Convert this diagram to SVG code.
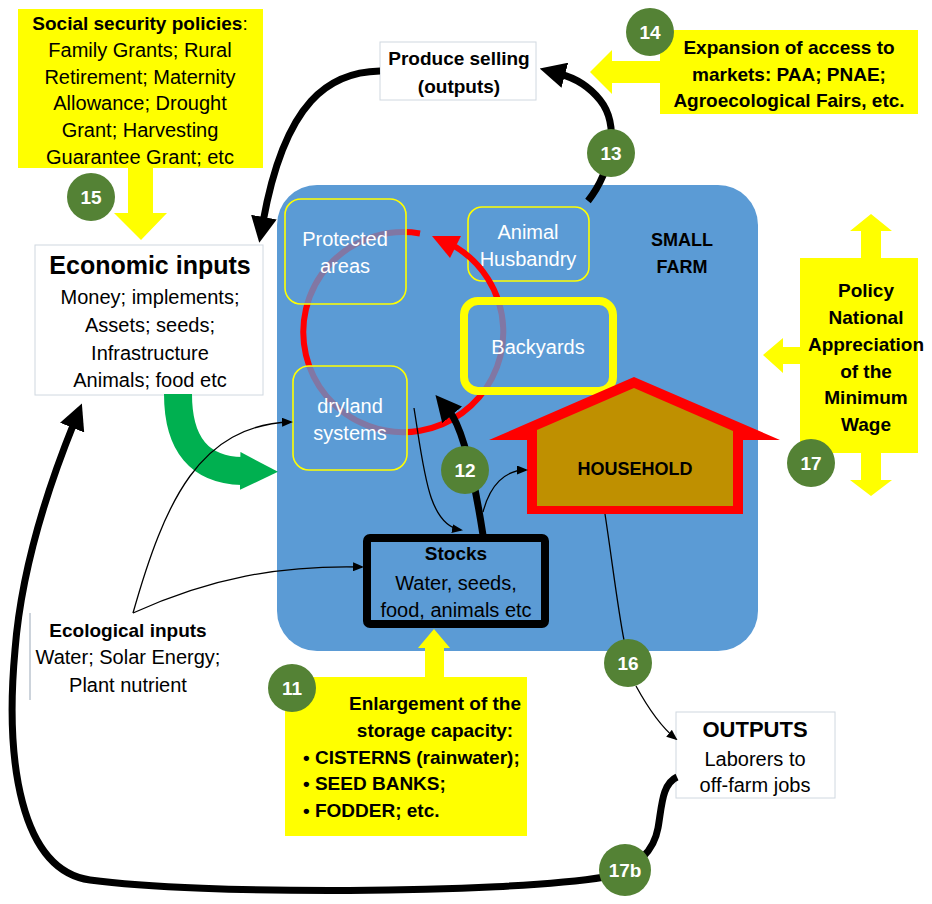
<svg xmlns="http://www.w3.org/2000/svg" width="932" height="904" viewBox="0 0 932 904">
<defs>
<style>
text{font-family:"Liberation Sans",Arial,sans-serif;text-anchor:middle;fill:#000}
.b{font-weight:bold;font-size:19px}
.r{font-size:20px}
.w{fill:#fff;font-size:20px}
.yel{fill:#FFFF00}
.ybox{fill:#FFFF00}
.wbox{fill:#fff;stroke:#D0D8E0;stroke-width:1}
.inner{fill:#5B9BD5;fill-opacity:0.77;stroke:#FFFF00;stroke-width:1.6}
.thick{fill:none;stroke:#000;stroke-width:7;marker-end:url(#ahBig)}
.thin{fill:none;stroke:#000;stroke-width:1.3;marker-end:url(#ahThin)}
.badge circle{fill:#548235}
.badge text{fill:#fff;font-weight:bold;font-size:19px}
</style>
<marker id="ahBig" markerUnits="userSpaceOnUse" markerWidth="26" markerHeight="26" refX="5" refY="13" orient="auto" viewBox="0 0 26 26"><path d="M0,0 L26,13 L0,26 z" fill="#000"/></marker>
<marker id="ahThin" markerUnits="userSpaceOnUse" markerWidth="11" markerHeight="9" refX="9" refY="4.5" orient="auto" viewBox="0 0 11 9"><path d="M0,0 L11,4.5 L0,9 z" fill="#000"/></marker>
<marker id="ahGreen" markerUnits="userSpaceOnUse" markerWidth="38" markerHeight="38" refX="2" refY="19" orient="auto" viewBox="0 0 38 38"><path d="M0,0 L38,19 L0,38 z" fill="#00B050"/></marker>
</defs>

<g id="small-farm">
<rect x="277" y="185" width="481" height="466" rx="40" fill="#5B9BD5"/>
<text class="b" x="682" y="246" style="font-size:18px">SMALL</text>
<text class="b" x="682" y="273" style="font-size:18px">FARM</text>
</g>

<g id="animal-husbandry">
<rect class="inner" x="468" y="207" width="121" height="74" rx="14" style="fill-opacity:1"/>
<text class="w" x="528" y="239">Animal</text>
<text class="w" x="528" y="266">Husbandry</text>
</g>

<g id="cycle">
<path d="M420,233.5 A100,100 0 1 0 455,246.5" fill="none" stroke="#FF0000" stroke-width="6"/>
<polygon points="432,236 461,236 450,258" fill="#FF0000"/>
</g>

<g id="protected-areas">
<rect class="inner" x="285" y="199" width="121" height="105" rx="16"/>
<text class="w" x="345" y="246">Protected</text>
<text class="w" x="345" y="273">areas</text>
</g>

<g id="dryland-systems">
<rect class="inner" x="293" y="366" width="114" height="104" rx="16"/>
<text class="w" x="350" y="413">dryland</text>
<text class="w" x="350" y="440">systems</text>
</g>

<g id="backyards">
<rect class="inner" x="464" y="301" width="149" height="90" rx="14" style="stroke-width:8"/>
<text class="w" x="538" y="354">Backyards</text>
</g>

<g id="household">
<polygon points="489,440 634,377 780,440 743,440 743,514 527,514 527,440" fill="#FF0000"/>
<polygon points="537,430 634,388 733,431 733,506 537,506" fill="#BF9000"/>
<text class="b" x="635" y="475" style="font-size:18px">HOUSEHOLD</text>
</g>

<g id="stocks">
<rect x="367" y="538" width="178" height="86" rx="3" fill="#5B9BD5" stroke="#000" stroke-width="8"/>
<text class="b" x="456" y="560">Stocks</text>
<text class="r" x="456" y="590">Water, seeds,</text>
<text class="r" x="456" y="617">food, animals etc</text>
</g>

<g id="social-security">
<rect class="ybox" x="18" y="9" width="245" height="159"/>
<polygon class="yel" points="128,167 153,167 153,213 167,213 141,240 114,213 128,213"/>
<text x="140" y="30" class="b">Social security policies<tspan style="font-weight:normal">:</tspan></text>
<text class="r" x="140" y="57">Family Grants; Rural</text>
<text class="r" x="140" y="84">Retirement; Maternity</text>
<text class="r" x="140" y="110">Allowance; Drought</text>
<text class="r" x="140" y="137">Grant; Harvesting</text>
<text class="r" x="140" y="164">Guarantee Grant; etc</text>
</g>

<g id="produce-selling">
<rect class="wbox" x="380" y="42" width="156" height="58"/>
<text class="b" x="459" y="65">Produce selling</text>
<text class="b" x="459" y="93">(outputs)</text>
</g>

<g id="market-access">
<rect class="ybox" x="660" y="30" width="258" height="84"/>
<polygon class="yel" points="660,61 612,61 612,50 590,72 612,94 612,83 660,83"/>
<text class="b" x="789" y="54">Expansion of access to</text>
<text class="b" x="789" y="81">markets: PAA; PNAE;</text>
<text class="b" x="789" y="107">Agroecological Fairs, etc.</text>
</g>

<g id="minimum-wage">
<rect class="ybox" x="800" y="258" width="118" height="195"/>
<polygon class="yel" points="861,259 861,231 850,231 871,214 892,231 881,231 881,259"/>
<polygon class="yel" points="861,452 861,480 850,480 871,496 892,480 881,480 881,452"/>
<polygon class="yel" points="801,347 783,347 783,338 763,355 783,373 783,364 801,364"/>
<text class="b" x="866" y="297">Policy</text>
<text class="b" x="866" y="324">National</text>
<text class="b" x="866" y="351">Appreciation</text>
<text class="b" x="866" y="378">of the</text>
<text class="b" x="866" y="404">Minimum</text>
<text class="b" x="866" y="431">Wage</text>
</g>

<g id="economic-inputs">
<rect class="wbox" x="35" y="245" width="228" height="150"/>
<text x="150" y="274" style="font-weight:bold;font-size:25px">Economic inputs</text>
<text class="r" x="150" y="304">Money; implements;</text>
<text class="r" x="150" y="332">Assets; seeds;</text>
<text class="r" x="150" y="360">Infrastructure</text>
<text class="r" x="150" y="387">Animals; food etc</text>
</g>

<g id="ecological-inputs">
<rect x="30" y="613" width="200" height="87" fill="#fff"/>
<line x1="30" y1="613" x2="30" y2="700" stroke="#9AA8B8" stroke-width="1"/>
<text class="b" x="128" y="637">Ecological inputs</text>
<text class="r" x="128" y="664">Water; Solar Energy;</text>
<text class="r" x="128" y="692">Plant nutrient</text>
</g>

<g id="storage-capacity">
<rect class="ybox" x="285" y="677" width="242" height="159"/>
<polygon class="yel" points="425,678 425,648 418,648 434,629 450,648 444,648 444,678"/>
<text class="b" x="435" y="710">Enlargement of the</text>
<text class="b" x="435" y="737">storage capacity:</text>
<text class="b" x="303" y="764" style="text-anchor:start">• CISTERNS (rainwater);</text>
<text class="b" x="303" y="790" style="text-anchor:start">• SEED BANKS;</text>
<text class="b" x="303" y="817" style="text-anchor:start">• FODDER; etc.</text>
</g>

<g id="outputs">
<rect class="wbox" x="676" y="712" width="159" height="86"/>
<text x="755" y="737" style="font-weight:bold;font-size:22px">OUTPUTS</text>
<text class="r" x="755" y="766">Laborers to</text>
<text class="r" x="755" y="792">off-farm jobs</text>
</g>

<g id="connectors">
<path d="M178,394 C178,445 200,470 242,471" fill="none" stroke="#00B050" stroke-width="28" marker-end="url(#ahGreen)"/>
<path class="thick" d="M380,71 C330,72 285,100 263,222"/>
<path class="thick" d="M588,201 C612,170 620,125 600,100 C588,85 575,78 560,74"/>
<path class="thick" d="M483,535 C476,490 465,430 449,411"/>
<path class="thick" d="M677,777 C662,784 662,805 658,828 C654,850 640,866 605,877 C500,894 200,895 90,880 C20,870 5,760 15,650 C22,560 55,470 74,423"/>
<path class="thin" d="M133,613 C165,500 200,425 291,422"/>
<path class="thin" d="M133,613 C210,578 280,565 362,567"/>
<path class="thin" d="M414,408 C424,470 428,525 461,530"/>
<path class="thin" d="M483,512 C490,485 505,470 526,470"/>
<path d="M605,514 C612,560 618,610 624,640" fill="none" stroke="#000" stroke-width="1.3"/>
<path class="thin" d="M636,686 C648,708 660,726 676,739"/>
</g>

<g id="badge-11" class="badge"><circle cx="292" cy="688" r="24"/><text x="292" y="695">11</text></g>
<g id="badge-12" class="badge"><circle cx="465" cy="470" r="24"/><text x="465" y="477">12</text></g>
<g id="badge-13" class="badge"><circle cx="611" cy="153" r="24"/><text x="611" y="160">13</text></g>
<g id="badge-14" class="badge"><circle cx="650" cy="32" r="24"/><text x="650" y="39">14</text></g>
<g id="badge-15" class="badge"><circle cx="91" cy="197" r="24"/><text x="91" y="204">15</text></g>
<g id="badge-16" class="badge"><circle cx="628" cy="663" r="24"/><text x="628" y="670">16</text></g>
<g id="badge-17" class="badge"><circle cx="811" cy="463" r="24"/><text x="811" y="470">17</text></g>
<g id="badge-17b" class="badge"><circle cx="625" cy="870" r="26"/><text x="625" y="877">17b</text></g>
</svg>
